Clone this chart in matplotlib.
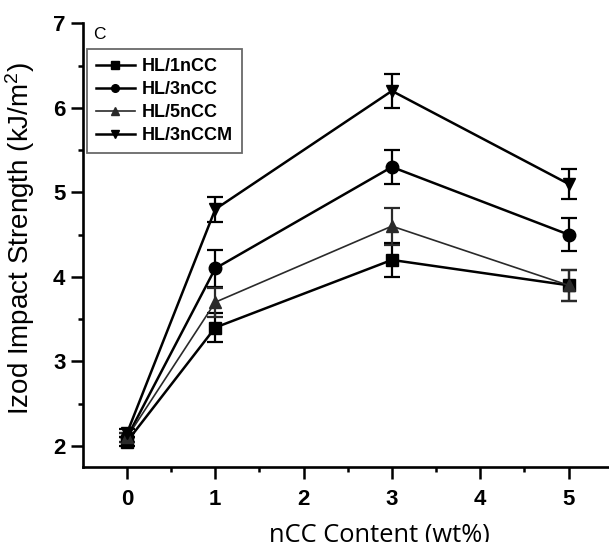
import matplotlib
matplotlib.use("Agg")
import matplotlib.pyplot as plt
from matplotlib.lines import Line2D

# nCC loading (wt%) and Izod impact strength (kJ/m2)
nCC = [0, 1, 3, 5]

hl_1ncc = [2.05, 3.40, 4.20, 3.90]
hl_1ncc_err = [0.05, 0.17, 0.20, 0.18]

hl_3ncc = [2.10, 4.10, 5.30, 4.50]
hl_3ncc_err = [0.05, 0.22, 0.20, 0.20]

hl_5ncc = [2.10, 3.70, 4.60, 3.90]
hl_5ncc_err = [0.05, 0.17, 0.22, 0.18]

hl_3nccm = [2.15, 4.80, 6.20, 5.10]
hl_3nccm_err = [0.05, 0.15, 0.20, 0.18]

labels = ["HL/1nCC", "HL/3nCC", "HL/5nCC", "HL/3nCCM"]

plt.rcParams["font.family"] = ["Liberation Sans", "DejaVu Sans"]
plt.rcParams["mathtext.fontset"] = "custom"
plt.rcParams["mathtext.rm"] = "Liberation Sans"
plt.rcParams["mathtext.it"] = "Liberation Sans:italic"

fig = plt.figure(figsize=(6.09, 5.42), dpi=100)
ax = fig.add_axes([0.136, 0.1384, 0.870, 0.8186])

series = [
    (hl_1ncc, hl_1ncc_err, "s", "black", 1.8),
    (hl_3ncc, hl_3ncc_err, "o", "black", 1.8),
    (hl_5ncc, hl_5ncc_err, "^", "#2a2a2a", 1.2),
    (hl_3nccm, hl_3nccm_err, "v", "black", 1.8),
]
handles = []
for (vals, errs, mk, col, lw), lab in zip(series, labels):
    ax.errorbar(nCC, vals, yerr=errs, marker=mk, color=col, lw=lw, ms=9,
                capsize=5.5, elinewidth=1.6, capthick=1.6)
    handles.append(Line2D([], [], marker=mk, color=col, lw=lw, ms=5.5, label=lab))

ax.set_xlim(-0.5, 5.5)
ax.set_ylim(1.75, 7)
ax.set_xticks([0, 1, 2, 3, 4, 5])
ax.set_yticks([2, 3, 4, 5, 6, 7])
ax.set_xticks([0.5, 1.5, 2.5, 3.5, 4.5], minor=True)
ax.set_yticks([2.5, 3.5, 4.5, 5.5, 6.5], minor=True)

for s in ["top", "right"]:
    ax.spines[s].set_visible(False)
for s in ["left", "bottom"]:
    ax.spines[s].set_linewidth(1.9)

ax.tick_params(which="major", direction="out", length=8.5, width=1.8, pad=4,
               labelsize=16)
ax.tick_params(axis="x", which="major", pad=7)
ax.tick_params(which="minor", direction="out", length=3.5, width=1.8)
for t in ax.get_xticklabels() + ax.get_yticklabels():
    t.set_fontweight("bold")

ax.set_ylabel("Izod Impact Strength (kJ/m$^2$)", fontsize=20)
ax.yaxis.set_label_coords(-0.087, 0.515)
ax.set_xlabel("nCC Content (wt%)", fontsize=18.4, family=["Open Sans", "DejaVu Sans"])
ax.xaxis.set_label_coords(0.56, -0.124)

ax.text(0.019, 0.992, "C", transform=ax.transAxes, fontsize=12.5, va="top")

leg = ax.legend(handles=handles, loc="upper left", bbox_to_anchor=(0.007, 0.942),
                borderaxespad=0, fancybox=False, edgecolor="#444444",
                prop={"weight": "bold", "size": 13},
                handlelength=2.2, handletextpad=0.37, labelspacing=0.33,
                borderpad=0.5)
leg.get_frame().set_linewidth(1.3)

fig.savefig("out.png", dpi=100)
